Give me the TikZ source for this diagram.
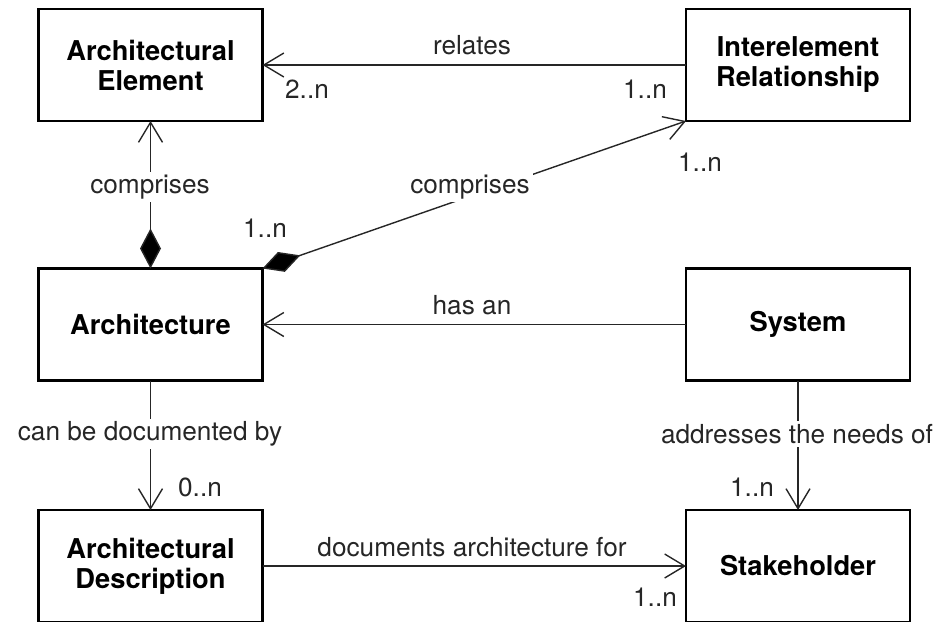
\documentclass[tikz,border=0pt]{standalone}
\usepackage{fontspec}
\setmainfont{TeX Gyre Heros}
\usetikzlibrary{arrows.meta}
\tikzset{
  cls/.style={draw=black, line width=2.4pt, minimum width=224pt, minimum height=112pt,
    align=center, inner sep=0pt, outer sep=0pt, font=\fontsize{27.3}{30}\selectfont\bfseries, text=black},
  conn/.style={line width=1.4pt, draw=black!85},
  openarr/.style={-{Straight Barb[length=20pt,width=24pt,line width=1.4pt]}},
  comp/.style={{Diamond[length=40pt,width=21pt,fill=black]}-{Straight Barb[length=20pt,width=24pt,line width=1.4pt]}},
  lbl/.style={font=\fontsize{26.2}{30}\selectfont, text=black!85, inner sep=1pt},
  lblw/.style={lbl, fill=white, inner sep=3pt},
}
\begin{document}
\begin{tikzpicture}[x=1pt,y=-1pt]
\useasboundingbox (0,0) rectangle (947,621);
\clip (0,0) rectangle (947,621);
\node[cls] (ae) at (150.5,65) {Architectural\\Element};
\node[cls] (ir) at (798,65) {Interelement\\Relationship};
\node[cls] (arch) at (150.5,324.5) {Architecture};
\node[cls] (sys) at (798,324.5) {System};
\node[cls] (ad) at (150.5,566) {Architectural\\Description};
\node[cls] (sh) at (798,566) {Stakeholder};

\draw[conn,openarr] (ir.west) -- (ae.east);
\draw[conn,comp] (arch.north) -- (ae.south);
\draw[conn,comp] (arch.north east) -- (ir.south west);
\draw[conn,openarr] (sys.west) -- (arch.east);
\draw[conn,openarr] (arch.south) -- (ad.north);
\draw[conn,openarr] (sys.south) -- (sh.north);
\draw[conn,openarr] (ad.east) -- (sh.west);

\node[lbl] (l1) at (472,45) {relates};
\node[lbl] (m1) at (307,89) {2..n};
\node[lbl] (m2) at (645,89) {1..n};
\node[lblw] (l2) at (150,187) {comprises};
\node[lblw] (l3) at (470,187) {comprises};
\node[lbl] (m3) at (265,228) {1..n};
\node[lbl] (m4) at (700,162) {1..n};
\node[lbl] (l4) at (472,305) {has an};
\node[lblw] (l5) at (150,434) {can be documented by};
\node[lblw] (l6) at (797,434) {addresses the needs of};
\node[lbl] (m5) at (200,487) {0..n};
\node[lbl] (m6) at (752,487) {1..n};
\node[lbl] (l7) at (472,547) {documents architecture for};
\node[lbl] (m7) at (655,597) {1..n};
\end{tikzpicture}
\end{document}
